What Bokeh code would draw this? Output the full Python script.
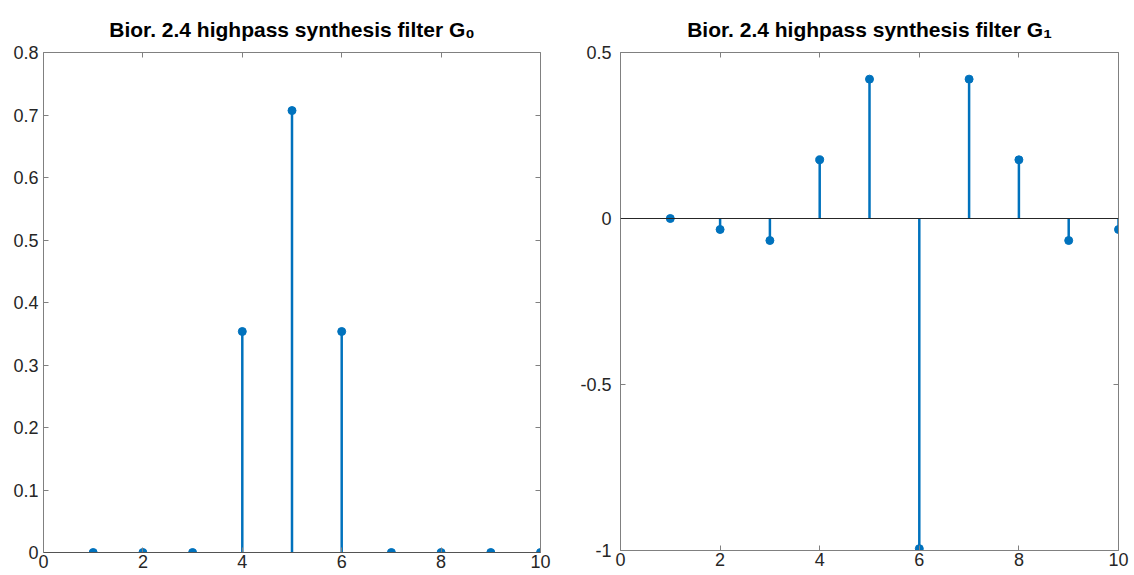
from bokeh.plotting import figure
from bokeh.layouts import row
from bokeh.models import Range1d, LinearAxis, FixedTicker, Span
from bokeh.embed import file_html
from bokeh.resources import INLINE

n = [1, 2, 3, 4, 5, 6, 7, 8, 9, 10]
g0 = [0, 0, 0, 0.3536, 0.7071, 0.3536, 0, 0, 0, 0]
g1 = [0, -0.0331, -0.0663, 0.1768, 0.4198, -0.9944, 0.4198, 0.1768, -0.0663, -0.0331]
x_ticks = [0, 2, 4, 6, 8, 10]
y0_ticks = [0, 0.1, 0.2, 0.3, 0.4, 0.5, 0.6, 0.7, 0.8]
y1_ticks = [-1, -0.5, 0, 0.5]
titles = ["Bior. 2.4 highpass synthesis filter G\u2080", "Bior. 2.4 highpass synthesis filter G\u2081"]

BLUE = "#0072BD"
AX = "#808080"
TXT = "#262626"
FONT = "Liberation Sans"


def fmt(v):
    return "%g" % v


def style_axis(ax, ticks, labels=True, standoff=3):
    ax.ticker = FixedTicker(ticks=ticks)
    ax.major_label_overrides = {t: fmt(t) for t in ticks}
    ax.axis_line_color = AX
    ax.axis_line_width = 1
    ax.major_tick_line_color = AX
    ax.major_tick_in = 5
    ax.major_tick_out = 0
    ax.minor_tick_line_color = None
    ax.major_label_text_font = FONT
    ax.major_label_text_font_size = "18px"
    ax.major_label_text_color = TXT if labels else None
    ax.major_label_standoff = standoff


def make(vals, yr, yticks, title, bl, br, bt, fh, ystand):
    p = figure(output_backend="svg", toolbar_location=None,
               x_range=Range1d(0, 10), y_range=Range1d(*yr),
               frame_width=1134 // 2 - bl - br, frame_height=fh,
               min_border_left=bl, min_border_right=br,
               min_border_top=bt, min_border_bottom=575 - bt - fh,
               x_axis_location=None, y_axis_location=None,
               title=title)
    p.title.align = "center"
    p.title.text_font = FONT
    p.title.text_font_style = "bold"
    p.title.text_font_size = "21px"
    p.title.text_color = "black"
    p.title.standoff = 24
    p.grid.visible = False
    p.outline_line_color = None
    p.background_fill_color = "white"
    p.border_fill_color = "white"
    for loc, t, lab in [("below", x_ticks, True), ("above", x_ticks, False)]:
        a = LinearAxis()
        style_axis(a, t, lab, 2)
        p.add_layout(a, loc)
    for loc, t, lab in [("left", yticks, True), ("right", yticks, False)]:
        a = LinearAxis()
        style_axis(a, t, lab, ystand)
        p.add_layout(a, loc)
    p.add_layout(Span(location=0, dimension="width", line_color=TXT, line_width=1))
    p.segment(x0=n, y0=[0] * len(n), x1=n, y1=vals, line_color=BLUE, line_width=2.5)
    p.scatter(n, vals, size=8, fill_color=BLUE, line_color=BLUE, marker="circle")
    return p


p1 = make(g0, (0, 0.8), y0_ticks, titles[0], 43, 27, 50, 500, 5)
p2 = make(g1, (-1, 0.5), y1_ticks, titles[1], 53, 16, 52, 498, 9)

layout = row(p1, p2, spacing=0)
open("out.html", "w").write(file_html(layout, INLINE))
